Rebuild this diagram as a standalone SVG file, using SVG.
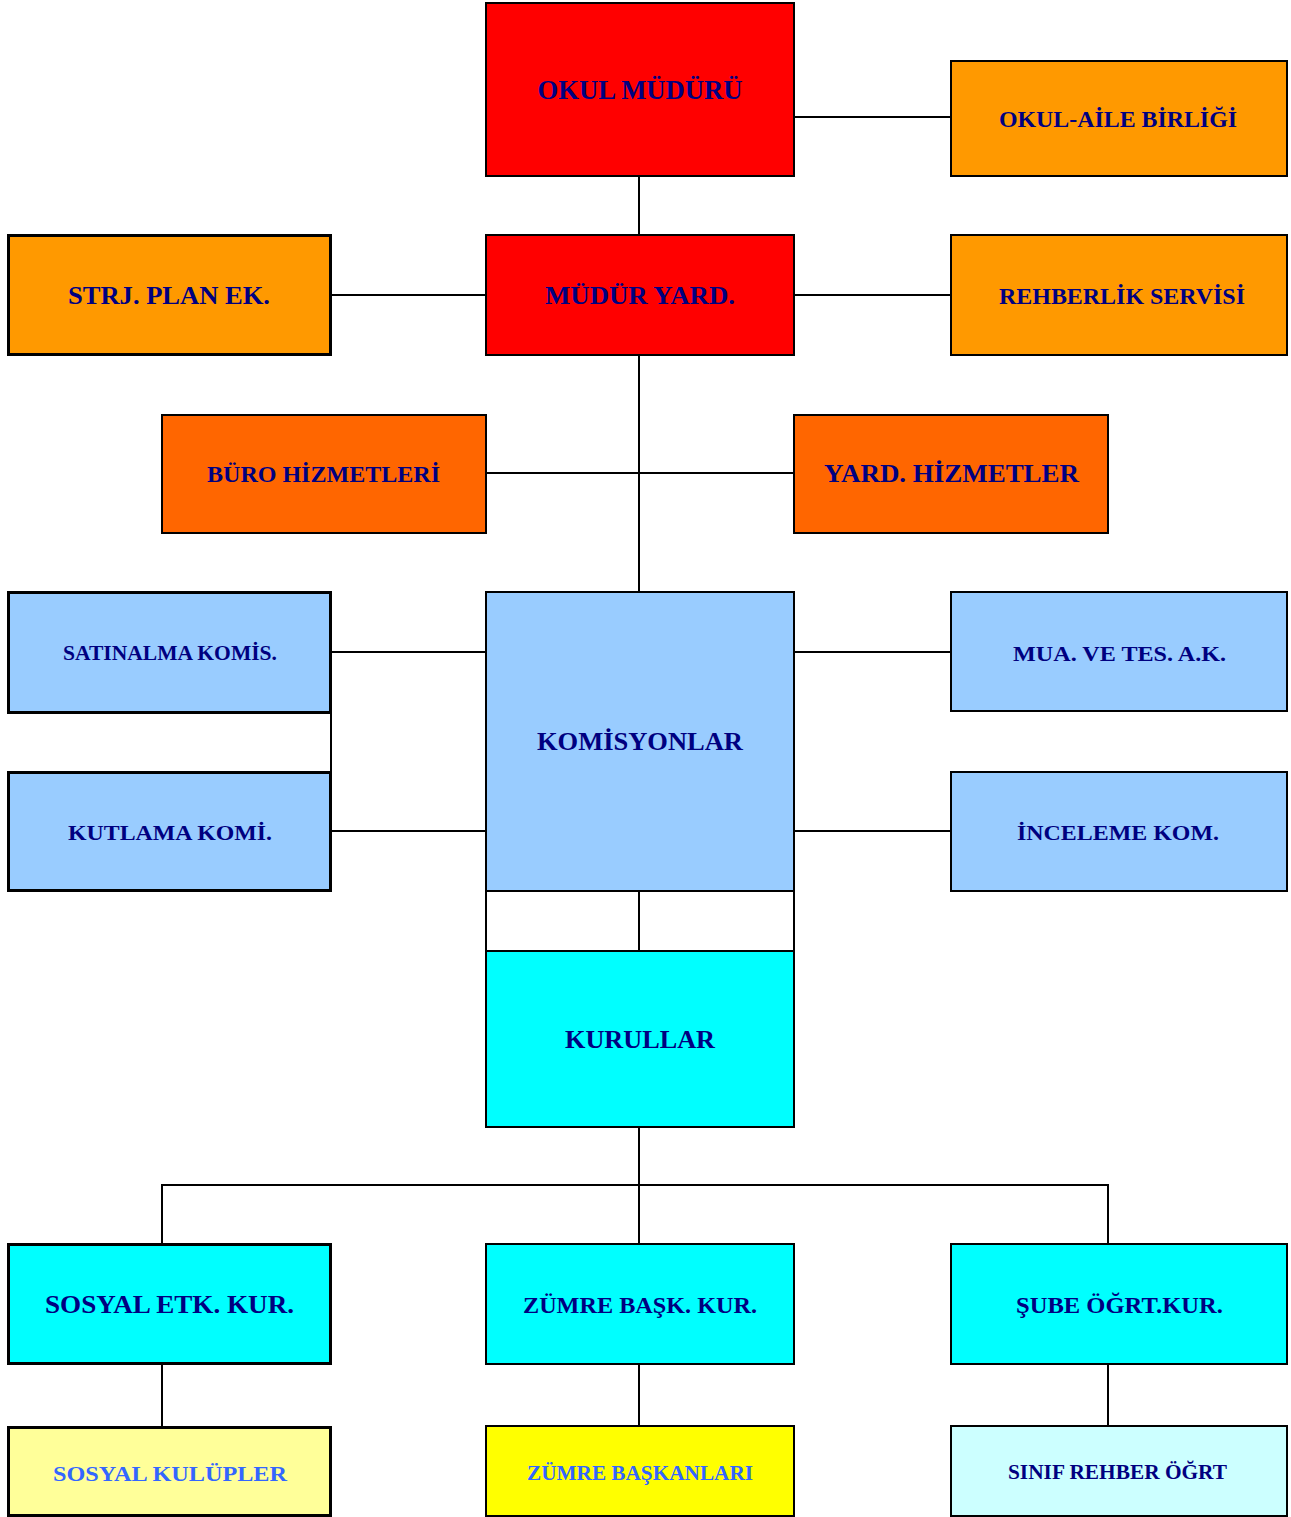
<svg xmlns="http://www.w3.org/2000/svg" width="1291" height="1517" viewBox="0 0 1291 1517">
<style>
.b{stroke:#000;stroke-width:2}
.bt{stroke:#000;stroke-width:3}
.t{font-family:"Liberation Serif","Times New Roman",serif;font-weight:bold;fill:#000080;text-anchor:middle}
.tb{fill:#3366FF}
.red{fill:#FF0000}.or{fill:#FF9900}.dor{fill:#FF6600}.lb{fill:#99CCFF}.cy{fill:#00FFFF}.ly{fill:#FFFF99}.ye{fill:#FFFF00}.pc{fill:#CCFFFF}
#connectors line{stroke:#000;stroke-width:2}
</style>
<rect width="1291" height="1517" fill="#fff"/>
<g id="connectors">
<line x1="794" y1="117" x2="951" y2="117"/>
<line x1="639" y1="176" x2="639" y2="235"/>
<line x1="331" y1="295" x2="486" y2="295"/>
<line x1="794" y1="295" x2="951" y2="295"/>
<line x1="639" y1="355" x2="639" y2="592"/>
<line x1="486" y1="473" x2="794" y2="473"/>
<line x1="331" y1="652" x2="486" y2="652"/>
<line x1="331" y1="831" x2="486" y2="831"/>
<line x1="331" y1="713" x2="331" y2="772"/>
<line x1="794" y1="652" x2="951" y2="652"/>
<line x1="794" y1="831" x2="951" y2="831"/>
<line x1="486" y1="891" x2="486" y2="951"/>
<line x1="639" y1="891" x2="639" y2="951"/>
<line x1="794" y1="891" x2="794" y2="951"/>
<line x1="639" y1="1127" x2="639" y2="1244"/>
<line x1="161" y1="1185" x2="1109" y2="1185"/>
<line x1="162" y1="1185" x2="162" y2="1244"/>
<line x1="1108" y1="1185" x2="1108" y2="1244"/>
<line x1="162" y1="1364" x2="162" y2="1427"/>
<line x1="639" y1="1364" x2="639" y2="1426"/>
<line x1="1108" y1="1364" x2="1108" y2="1426"/>
</g>
<g id="okul-muduru"><rect class="b red" x="486" y="3" width="308" height="173"/><text class="t" x="640" y="99" font-size="27" textLength="205" lengthAdjust="spacingAndGlyphs">OKUL MÜDÜRÜ</text></g>
<g id="okul-aile"><rect class="b or" x="951" y="61" width="336" height="115"/><text class="t" x="1118" y="127" font-size="24" textLength="238" lengthAdjust="spacingAndGlyphs">OKUL-AİLE BİRLİĞİ</text></g>
<g id="strj"><rect class="bt or" x="8.5" y="235.5" width="322" height="119"/><text class="t" x="169" y="304" font-size="25" textLength="202" lengthAdjust="spacingAndGlyphs">STRJ. PLAN EK.</text></g>
<g id="mudur-yard"><rect class="b red" x="486" y="235" width="308" height="120"/><text class="t" x="640" y="304" font-size="25" textLength="190" lengthAdjust="spacingAndGlyphs">MÜDÜR YARD.</text></g>
<g id="rehberlik"><rect class="b or" x="951" y="235" width="336" height="120"/><text class="t" x="1122" y="304" font-size="23" textLength="246" lengthAdjust="spacingAndGlyphs">REHBERLİK SERVİSİ</text></g>
<g id="buro"><rect class="b dor" x="162" y="415" width="324" height="118"/><text class="t" x="323.5" y="482" font-size="24" textLength="233" lengthAdjust="spacingAndGlyphs">BÜRO HİZMETLERİ</text></g>
<g id="yard-hizmetler"><rect class="b dor" x="794" y="415" width="314" height="118"/><text class="t" x="951.5" y="482" font-size="25" textLength="255" lengthAdjust="spacingAndGlyphs">YARD. HİZMETLER</text></g>
<g id="satinalma"><rect class="bt lb" x="8.5" y="592.5" width="322" height="120"/><text class="t" x="170" y="660" font-size="21" textLength="214" lengthAdjust="spacingAndGlyphs">SATINALMA KOMİS.</text></g>
<g id="kutlama"><rect class="bt lb" x="8.5" y="772.5" width="322" height="118"/><text class="t" x="170" y="840" font-size="22" textLength="204" lengthAdjust="spacingAndGlyphs">KUTLAMA KOMİ.</text></g>
<g id="komisyonlar"><rect class="b lb" x="486" y="592" width="308" height="299"/><text class="t" x="640" y="750" font-size="25" textLength="206" lengthAdjust="spacingAndGlyphs">KOMİSYONLAR</text></g>
<g id="mua"><rect class="b lb" x="951" y="592" width="336" height="119"/><text class="t" x="1119.5" y="661" font-size="22" textLength="213" lengthAdjust="spacingAndGlyphs">MUA. VE TES. A.K.</text></g>
<g id="inceleme"><rect class="b lb" x="951" y="772" width="336" height="119"/><text class="t" x="1118" y="840" font-size="22" textLength="202" lengthAdjust="spacingAndGlyphs">İNCELEME KOM.</text></g>
<g id="kurullar"><rect class="b cy" x="486" y="951" width="308" height="176"/><text class="t" x="640" y="1048" font-size="25" textLength="150" lengthAdjust="spacingAndGlyphs">KURULLAR</text></g>
<g id="sosyal-etk"><rect class="bt cy" x="8.5" y="1244.5" width="322" height="119"/><text class="t" x="169.5" y="1313" font-size="25" textLength="249" lengthAdjust="spacingAndGlyphs">SOSYAL ETK. KUR.</text></g>
<g id="zumre-bask-kur"><rect class="b cy" x="486" y="1244" width="308" height="120"/><text class="t" x="640" y="1313" font-size="23" textLength="234" lengthAdjust="spacingAndGlyphs">ZÜMRE BAŞK. KUR.</text></g>
<g id="sube"><rect class="b cy" x="951" y="1244" width="336" height="120"/><text class="t" x="1119.5" y="1313" font-size="23" textLength="207" lengthAdjust="spacingAndGlyphs">ŞUBE ÖĞRT.KUR.</text></g>
<g id="sosyal-kulupler"><rect class="bt ly" x="8.5" y="1427.5" width="322" height="88"/><text class="t tb" x="170" y="1481" font-size="22" textLength="234" lengthAdjust="spacingAndGlyphs">SOSYAL KULÜPLER</text></g>
<g id="zumre-baskanlari"><rect class="b ye" x="486" y="1426" width="308" height="90"/><text class="t tb" x="640" y="1480" font-size="20" textLength="226" lengthAdjust="spacingAndGlyphs">ZÜMRE BAŞKANLARI</text></g>
<g id="sinif-rehber"><rect class="b pc" x="951" y="1426" width="336" height="90"/><text class="t" x="1117.5" y="1479" font-size="20" textLength="219" lengthAdjust="spacingAndGlyphs">SINIF REHBER ÖĞRT</text></g>
</svg>
